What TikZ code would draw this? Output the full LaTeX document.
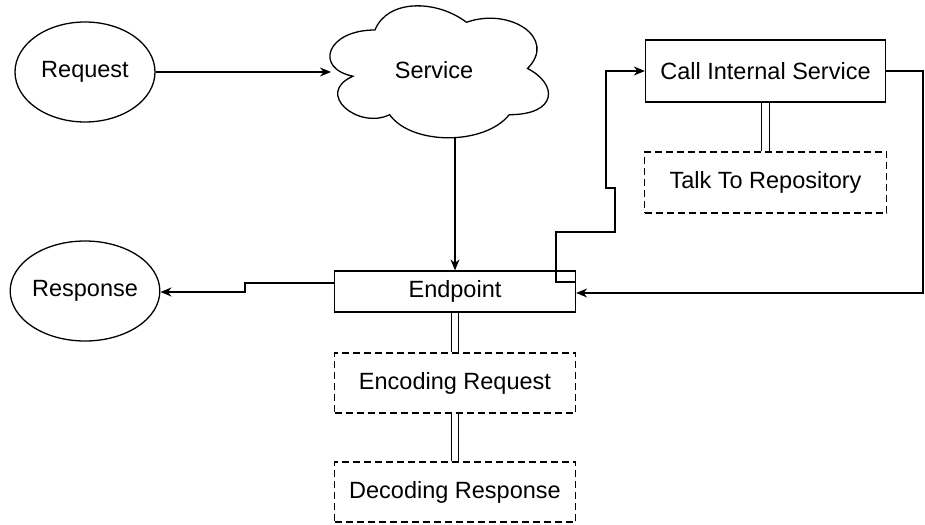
\documentclass[tikz,border=0pt]{standalone}
\usepackage{fontspec}
\setmainfont{Liberation Sans}
\usetikzlibrary{arrows.meta,shapes.geometric}
\begin{document}
\begin{tikzpicture}[x=1pt,y=-1pt,
  font=\fontsize{23.5}{28}\selectfont,
  line width=1.3pt,
  oval/.style={draw, ellipse, minimum width=140pt, minimum height=100pt, inner sep=0pt},
  solidbox/.style={draw, rectangle, inner sep=0pt},
  dashbox/.style={draw, rectangle, inner sep=0pt, dash pattern=on 7pt off 4pt, line width=1.2pt},
  arr/.style={-{Stealth[length=11pt,width=9pt]}},
  dbl/.style={double, double distance=6.2pt, line width=1.2pt}
]
\useasboundingbox (0,0) rectangle (925,524);

% nodes
\node[oval] (req) at (85,72) {Request};
\node[oval] (resp) at (85,291) {Response};
\node (svc) at (434,70) {Service};
\node[solidbox, minimum width=241pt, minimum height=41pt] (ep) at (455,291.5) {Endpoint};
\node[solidbox, minimum width=240pt, minimum height=62pt] (cis) at (765.5,71) {Call Internal Service};
\node[dashbox, minimum width=242pt, minimum height=61pt] (talk) at (765.5,182.5) {Talk To Repository};
\node[dashbox, minimum width=241pt, minimum height=60pt] (enc) at (455,383) {Encoding Request};
\node[dashbox, minimum width=241pt, minimum height=60pt] (dec) at (455,492) {Decoding Response};

% cloud outline
\draw (375,30)
  .. controls (326.2,30) and (314,68.5) .. (353.04,76.2)
  .. controls (314,93.14) and (357.92,130.1) .. (389.64,114.7)
  .. controls (411.6,145.5) and (484.8,145.5) .. (509.2,114.7)
  .. controls (558,114.7) and (558,83.9) .. (527.5,68.5)
  .. controls (558,37.7) and (509.2,6.9) .. (466.5,22.3)
  .. controls (436,-0.8) and (387.2,-0.8) .. (375,30) -- cycle;
\coordinate (svcL) at (331,72);
\coordinate (svcB) at (455,138);

% connectors
\draw[arr] (req.east) -- (svcL);
\draw[arr] (svcB) -- (svcB |- ep.north);
\draw[arr] ([yshift=8.5pt]ep.west) -- (245,283) -- (245,292) -- (resp.east |- 0,292);
\draw[arr] ([yshift=9.5pt]ep.east) -- (556,282) -- (556,232) -- (615,232) -- (615,188) -- (606,188) -- (606,71) -- (cis.west);
\draw[arr] (cis.east) -- (923,71) -- (923,293) -- ([yshift=-1.5pt]ep.east);

% double links
\draw[dbl] (cis.south) -- (talk.north);
\draw[dbl] (ep.south) -- (enc.north);
\draw[dbl] (enc.south) -- (dec.north);
\end{tikzpicture}
\end{document}
